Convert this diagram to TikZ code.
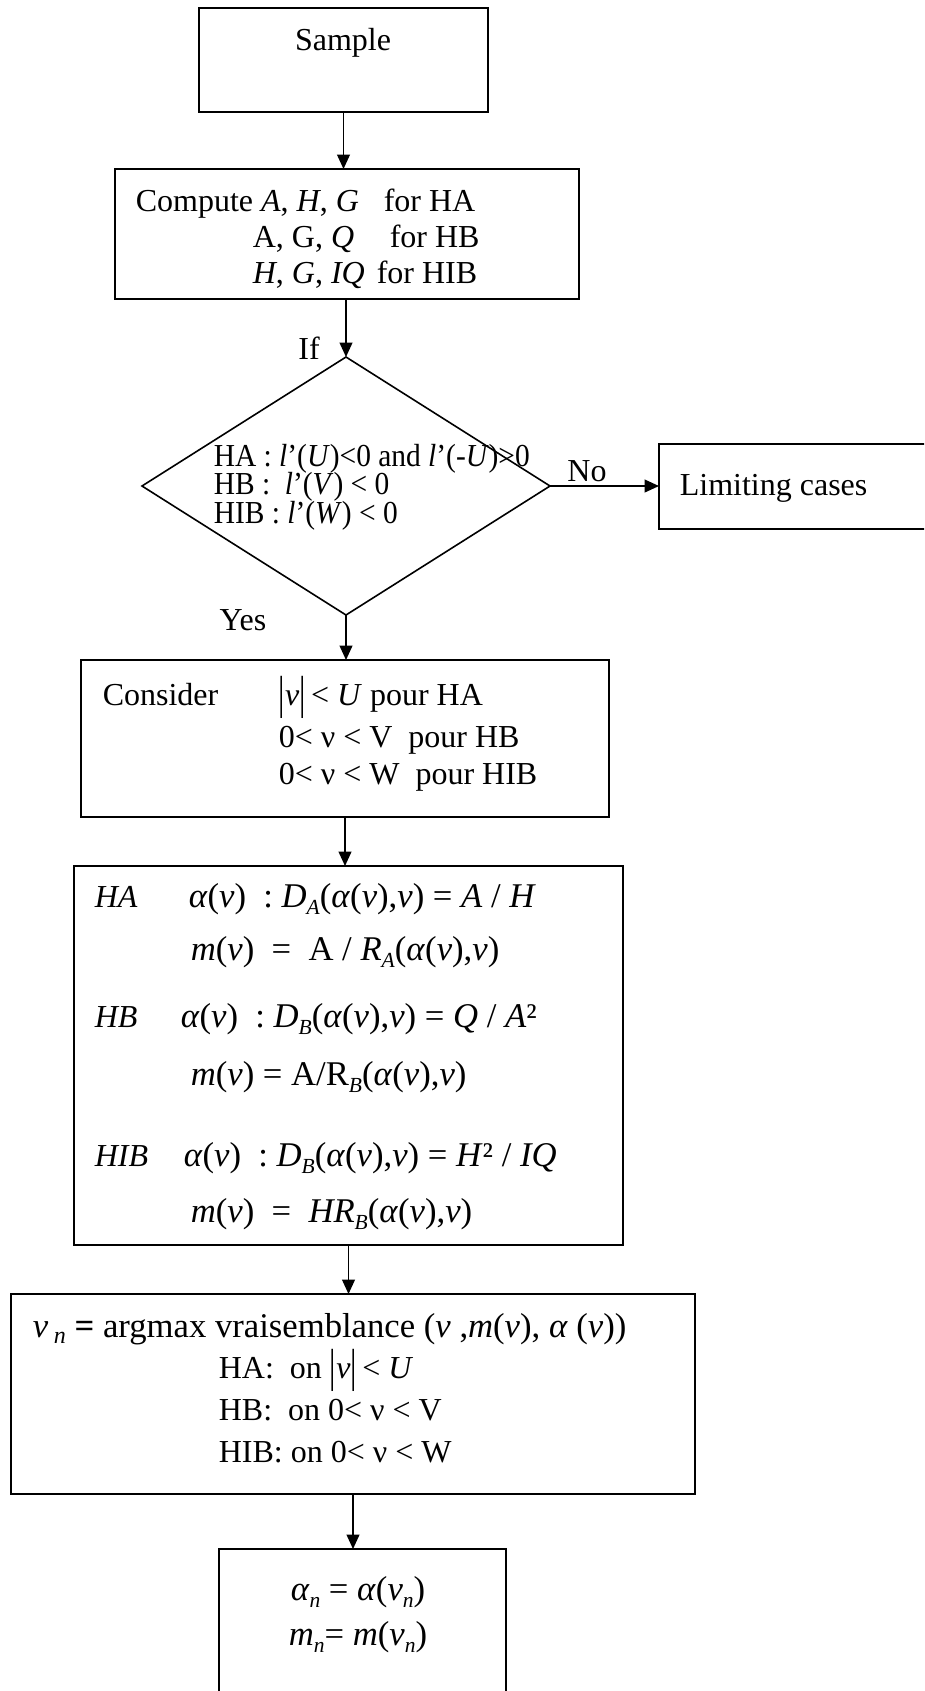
\documentclass[tikz,border=0pt]{standalone}
\usepackage{fontspec}
\setmainfont{Liberation Serif}
\usepackage{graphicx}
\usetikzlibrary{shapes.geometric}
\usetikzlibrary{arrows.meta}

\newcommand{\px}{0.375pt}
\newcommand{\vi}[1]{\textit{#1}}
\newcommand{\lowix}[1]{\raisebox{-0.45ex}{\scalebox{0.62}{\textit{#1}}}}
\newcommand{\tallbar}{\raisebox{-0.25ex}{\scalebox{1}[1.45]{|}}}
\newcommand{\narrow}[1]{\scalebox{0.92}[1]{#1}}

\begin{document}
\begin{tikzpicture}[>={Triangle[length=5.4pt,width=4.8pt]},semithick,x=0.375pt,y=-0.375pt,
	box/.style={draw=black,inner sep=0pt,outer sep=0pt},
	txt/.style={inner sep=0pt,anchor=base west,font=\fontsize{12}{14}\selectfont},
	eq/.style={inner sep=0pt,anchor=base west,font=\fontsize{13}{15}\selectfont},
	cond/.style={inner sep=0pt,anchor=base west,font=\fontsize{12}{14}\selectfont}]
	\useasboundingbox (0,0) rectangle (924,1691);
	\clip (0,0) rectangle (924,1691);

	\node [box,minimum width=289*\px,minimum height=104*\px] at (343.5,60) (sample) {};
	\node [txt,anchor=base] at (343,50) (sample_txt) {Sample};

	\node [box,minimum width=464*\px,minimum height=130*\px] at (347,234) (compute) {};
	\node [txt] at (135,211) (compute_ha) {Compute \vi{A}, \vi{H}, \vi{G}};
	\node [txt] at (383,211) (compute_ha_for) {for HA};
	\node [txt] at (252,247) (compute_hb) {A, G, \vi{Q}};
	\node [txt] at (389,247) (compute_hb_for) {for HB};
	\node [txt] at (252,283) (compute_hib) {\vi{H}, \vi{G}, \vi{IQ}};
	\node [txt] at (376,283) (compute_hib_for) {for HIB};

	\node [box,shape=diamond,minimum width=408*\px,minimum height=258*\px] at (346,486) (cond) {};
	\node [cond] at (213,466) (cond_ha) {\narrow{HA : \vi{l}’(\vi{U})<0 and \vi{l}’(-\vi{U})>0}};
	\node [cond] at (213,494) (cond_hb) {\narrow{HB :\ \ \vi{l}’(\vi{V}) < 0}};
	\node [cond] at (213,523) (cond_hib) {\narrow{HIB : \vi{l}’(\vi{W}) < 0}};

	\node [box,minimum width=282*\px,minimum height=85*\px] at (800,486.5) (limit) {};
	\node [txt] at (679,495) (limit_txt) {Limiting cases};

	\node [box,minimum width=528*\px,minimum height=157*\px] at (345,738.5) (consider) {};
	\node [txt] at (102,705) (consider_txt) {Consider};
	\node [txt] at (278,705) (consider_ha) {\tallbar\vi{ν}\tallbar\,< \vi{U} pour HA};
	\node [txt] at (278,747) (consider_hb) {0< ν < V\ \ pour HB};
	\node [txt] at (278,784) (consider_hib) {0< ν < W\ \ pour HIB};

	\node [box,minimum width=549*\px,minimum height=379*\px] at (348.5,1055.5) (estim) {};
	\node [txt] at (94,907) (estim_ha) {\vi{HA}};
	\node [eq] at (188,907) (estim_ha_a) {\vi{α}(\vi{ν})\ \ :\ \vi{D}\lowix{A}(\vi{α}(\vi{ν}),\vi{ν}) = \vi{A} / \vi{H}};
	\node [eq] at (190,960) (estim_ha_m) {\vi{m}(\vi{ν})\ \ =\ \ A / \vi{R}\lowix{A}(\vi{α}(\vi{ν}),\vi{ν})};
	\node [txt] at (94,1027) (estim_hb) {\vi{HB}};
	\node [eq] at (180,1027) (estim_hb_a) {\vi{α}(\vi{ν})\ \ :\ \vi{D}\lowix{B}(\vi{α}(\vi{ν}),\vi{ν}) = \vi{Q} / \vi{A}²};
	\node [eq] at (190,1085) (estim_hb_m) {\vi{m}(\vi{ν}) = A/R\lowix{B}(\vi{α}(\vi{ν}),\vi{ν})};
	\node [txt] at (94,1166) (estim_hib) {\vi{HIB}};
	\node [eq] at (183,1166) (estim_hib_a) {\vi{α}(\vi{ν})\ \ :\ \vi{D}\lowix{B}(\vi{α}(\vi{ν}),\vi{ν}) = \vi{H}² / \vi{IQ}};
	\node [eq] at (190,1222) (estim_hib_m) {\vi{m}(\vi{ν})\ \ =\ \ \vi{HR}\lowix{B}(\vi{α}(\vi{ν}),\vi{ν})};

	\node [box,minimum width=684*\px,minimum height=200*\px] at (353,1394) (argmax) {};
	\node [eq] at (32,1337) (argmax_txt) {\vi{ν}\,\raisebox{-0.4ex}{\small\vi{n}} \textbf{=} argmax vraisemblance (\vi{ν} ,\vi{m}(\vi{ν}), \vi{α} (\vi{ν}))};
	\node [txt] at (218,1378) (argmax_ha) {HA:\ \ on \tallbar\vi{ν}\tallbar\,< \vi{U}};
	\node [txt] at (218,1420) (argmax_hb) {HB:\ \ on 0< ν < V};
	\node [txt] at (218,1462) (argmax_hib) {HIB: on 0< ν < W};

	\node [box,minimum width=287*\px,minimum height=171*\px] at (362.5,1634.5) (final) {};
	\node [eq,anchor=base] at (358,1600) (final_a) {\vi{α}\lowix{n} = \vi{α}(\vi{ν}\lowix{n})};
	\node [eq,anchor=base] at (358,1645) (final_m) {\vi{m}\lowix{n}= \vi{m}(\vi{ν}\lowix{n})};

	\node [txt,anchor=center] at (309,348) (if_lbl) {If};
	\node [txt,anchor=center] at (587,471) (no_lbl) {No};
	\node [txt,anchor=center] at (243,620) (yes_lbl) {Yes};

	\draw [->] (sample.south) -- (sample.south |- compute.north);
	\draw [->] (compute.south -| cond.north) -- (cond.north);
	\draw [->] (cond.east) -- (cond.east -| limit.west);
	\draw [->] (cond.south) -- (cond.south |- consider.north);
	\draw [->] (consider.south) -- (consider.south |- estim.north);
	\draw [->] (estim.south) -- (estim.south |- argmax.north);
	\draw [->] (argmax.south) -- (argmax.south |- final.north);
\end{tikzpicture}
\end{document}
